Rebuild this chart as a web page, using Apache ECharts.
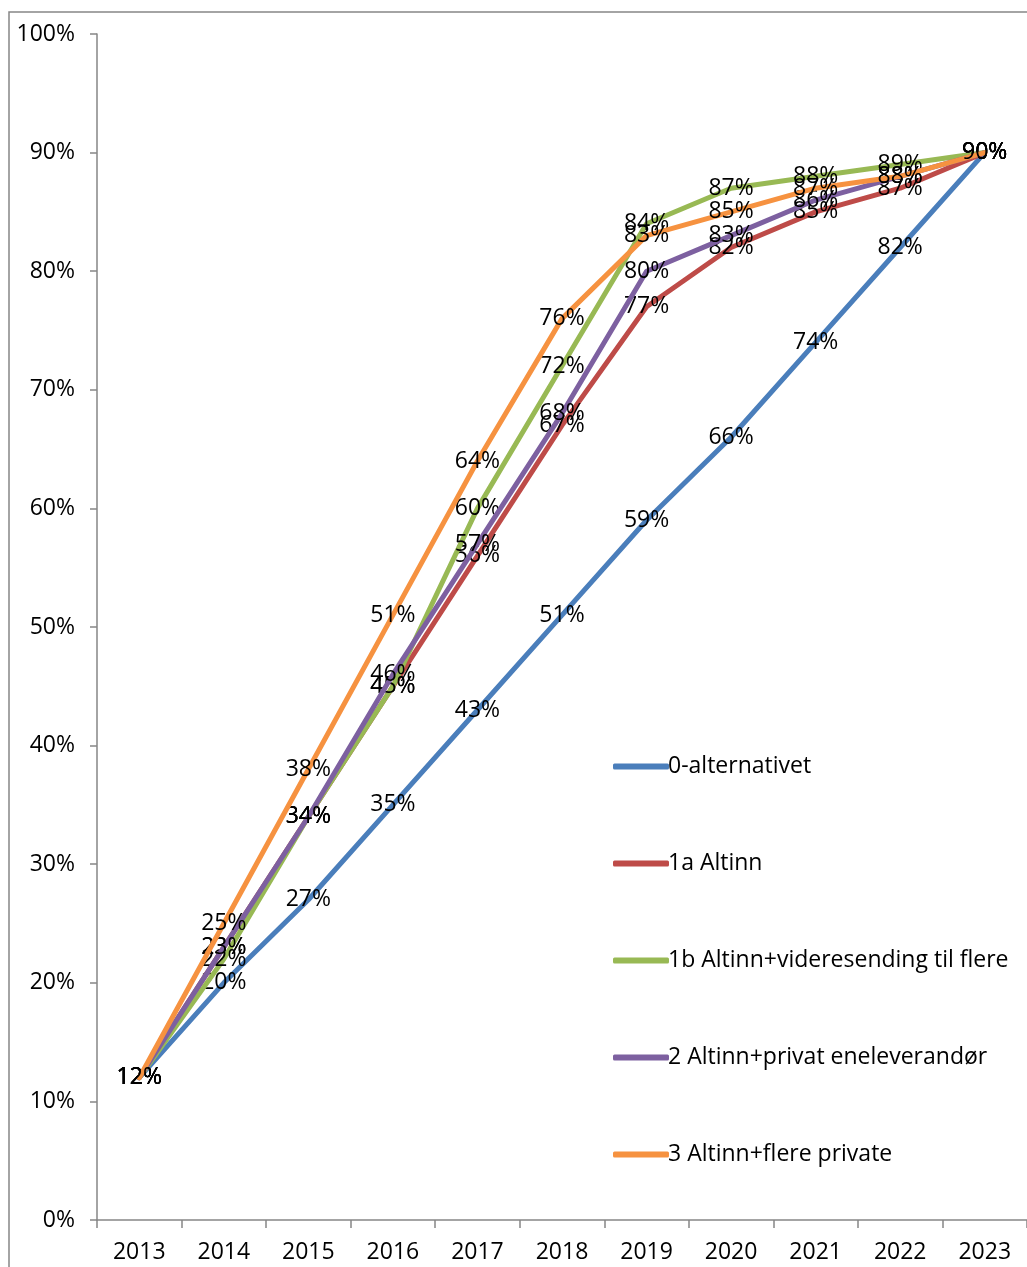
<!DOCTYPE html>
<html><head><meta charset="utf-8">
<script src="https://cdn.jsdelivr.net/npm/echarts@6/dist/echarts.min.js"></script>
<style>html,body{margin:0;padding:0;background:#fff}#c{width:1027px;height:1267px}</style>
</head><body><div id="c"></div>
<script>
const years = ['2013','2014','2015','2016','2017','2018','2019','2020','2021','2022','2023'];
const seriesNames = ['0-alternativet','1a Altinn','1b Altinn+videresending til flere','2 Altinn+privat eneleverandør','3 Altinn+flere private'];
const s0 = [12,20,27,35,43,51,59,66,74,82,90];
const s1a = [12,23,34,45,56,67,77,82,85,87,90];
const s1b = [12,22,34,45,60,72,84,87,88,89,90];
const s2 = [12,23,34,46,57,68,80,83,86,88,90];
const s3 = [12,25,38,51,64,76,83,85,87,88,90];
const yTicks = [0,10,20,30,40,50,60,70,80,90,100];
const colors = ['#4A7EBB','#BE4B48','#98B954','#7D60A0','#F69240'];
const font = 'Open Sans';
const fs = 23;
const chart = echarts.init(document.getElementById('c'));
const allData = [s0,s1a,s1b,s2,s3];
chart.setOption({
  animation:false,
  color: colors,
  graphic:[{type:'rect',shape:{x:9,y:12,width:1030,height:1270},style:{fill:'none',stroke:'#868686',lineWidth:1.5},z:-1}],
  grid:{left:97,top:34,width:935,height:1186,containLabel:false},
  legend:{
    orient:'vertical', left:608, top:750, itemGap:74, itemWidth:56, itemHeight:6,
    icon:'roundRect',
    textStyle:{fontFamily:font,fontSize:fs,color:'#000',padding:[0,0,0,-6]},
    data: seriesNames
  },
  xAxis:{type:'category',data:years,boundaryGap:true,
    axisLine:{lineStyle:{color:'#868686',width:1.5}},
    axisTick:{show:true,length:8,inside:false,lineStyle:{color:'#868686',width:1.5}},
    axisLabel:{fontFamily:font,fontSize:fs,color:'#000',margin:21}},
  yAxis:{type:'value',min:0,max:100,interval:10,
    splitLine:{show:false},
    axisLine:{show:true,lineStyle:{color:'#868686',width:1.5}},
    axisTick:{show:true,length:7,lineStyle:{color:'#868686',width:1.5}},
    axisLabel:{fontFamily:font,fontSize:fs,color:'#000',margin:22,formatter:function(v){return v+'%';}}},
  series: allData.map(function(d,i){ return {
    name:seriesNames[i], type:'line', data:d, symbol:'circle', symbolSize:2, showSymbol:true, showAllSymbol:true, smooth:false,
    lineStyle:{width:5,color:colors[i],cap:'round',join:'round'},
    itemStyle:{color:colors[i]},
    label:{show:true,position:'inside',formatter:function(p){return p.value+'%';},fontFamily:font,fontSize:fs,color:'#000',opacity:1},
    labelLayout:{hideOverlap:false},
    z:2+i
  };})
});
</script></body></html>
